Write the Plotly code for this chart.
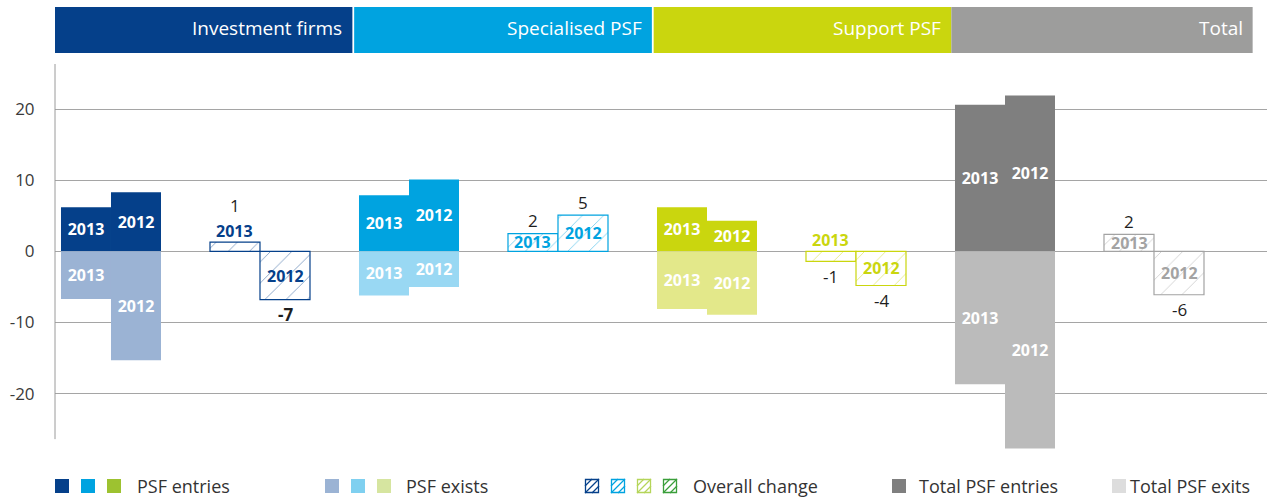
import plotly.graph_objects as go

# ---------------- data ----------------
categories = ["Investment firms", "Specialised PSF", "Support PSF", "Total"]
years = ["2013", "2012"]
entries_2013 = [6.2, 7.9, 6.2, 20.6]
entries_2012 = [8.3, 10.1, 4.3, 21.9]
exits_2013 = [-6.7, -6.2, -8.1, -18.7]
exits_2012 = [-15.3, -5.0, -8.9, -27.7]
change_2013 = [1.3, 2.5, -1.4, 2.4]
change_2012 = [-6.8, 5.1, -4.8, -6.1]
change_labels_2013 = ["1", "2", "-1", "2"]
change_labels_2012 = ["-7", "5", "-4", "-6"]
y_ticks = [-20, -10, 0, 10, 20]
legend_labels = ["PSF entries", "PSF exists", "Overall change", "Total PSF entries", "Total PSF exits"]

# ---------------- styles ----------------
header_cols = ["#05408A", "#00A3E0", "#CAD60E", "#9D9D9C"]
entry_cols = ["#05408A", "#00A3E0", "#CAD60E", "#7F7F7F"]
exit_cols = ["#9BB3D4", "#99D8F3", "#E3E88A", "#BBBBBB"]
change_cols = ["#05408A", "#00A3E0", "#CAD60E", "#A3A3A3"]
FONT = "Open Sans"

W, H = 1267, 499
L, R, T, B = 55, 0, 64, 44
PW, PH = W - L - R, H - T - B


def px(x):
    return (x - L) / PW


def py(y):
    return (H - B - y) / PH


bw = 0.3356
off = bw / 2
entry_g = [0, 2, 4, 6]
change_g = [1, 3, 5, 7]

fig = go.Figure()

# entries and exits
for vals, cols, sign in [(entries_2013, entry_cols, -1), (entries_2012, entry_cols, 1),
                         (exits_2013, exit_cols, -1), (exits_2012, exit_cols, 1)]:
    yr = years[0] if sign < 0 else years[1]
    fig.add_trace(go.Bar(
        x=[g + sign * off for g in entry_g], y=vals, width=bw,
        marker=dict(color=cols, line=dict(width=0)),
        text=[yr] * len(vals), textposition="inside", insidetextanchor="middle",
        textangle=0, constraintext="none",
        textfont=dict(family=FONT, size=16, color="white", weight="bold"),
        hoverinfo="skip", showlegend=False,
    ))

# overall change (hatched)
for vals, sign in [(change_2013, -1), (change_2012, 1)]:
    fig.add_trace(go.Bar(
        x=[g + sign * off for g in change_g], y=vals, width=bw,
        marker=dict(color="white", line=dict(color=change_cols, width=1.2),
                    pattern=dict(shape="/", fgcolor=change_cols, bgcolor="white",
                                 size=15, solidity=0.06)),
        hoverinfo="skip", showlegend=False,
    ))

annotations = []
# year labels and value labels on change bars
for vals, labels, sign, yr in [(change_2013, change_labels_2013, -1, years[0]),
                               (change_2012, change_labels_2012, 1, years[1])]:
    for i, v in enumerate(vals):
        xc = change_g[i] + sign * off
        small = abs(v) < 2
        if small:
            ylab, ysh = max(v, 0), 11
        else:
            ylab, ysh = v / 2, 0
        annotations.append(dict(x=xc, y=ylab, yshift=ysh, text="<b>%s</b>" % yr, showarrow=False,
                                yanchor="middle",
                                font=dict(family=FONT, size=16, color=change_cols[i]),
                                xref="x", yref="y"))
        if v >= 0:
            vs = 13 + (24 if small else 0)
        else:
            vs = -15
        txt = labels[i]
        if txt == "-7":
            txt = "<b>-7</b>"
        annotations.append(dict(x=xc, y=v, yshift=vs, text=txt, showarrow=False, yanchor="middle",
                                font=dict(family=FONT, size=17, color="#1e1e1e"),
                                xref="x", yref="y"))

shapes = []
# headers
edges = [-0.39 + 2.01 * k for k in range(5)]
for k, name in enumerate(categories):
    x0 = edges[k] + (0.012 if k in (1, 2) else 0)
    x1 = edges[k + 1] + (0.012 if k == 3 else 0)
    shapes.append(dict(type="rect", xref="x", yref="paper", x0=x0, x1=x1,
                       y0=py(53), y1=py(7), fillcolor=header_cols[k], line=dict(width=0), layer="above"))
    annotations.append(dict(x=x1, xref="x", xshift=-8, xanchor="right", y=py(28), yref="paper",
                            yanchor="middle", text=name, showarrow=False,
                            font=dict(family=FONT, size=19, color="white")))

# y axis line
shapes.append(dict(type="line", xref="paper", yref="y", x0=0, x1=0, y0=-26.4, y1=26.34,
                   line=dict(color="#9A9A9A", width=1)))

# legend
LY = 486
S = 14


def sq(x, col, hatch=False):
    if not hatch:
        shapes.append(dict(type="rect", xref="paper", yref="paper", x0=px(x), x1=px(x + S),
                           y0=py(LY + S / 2), y1=py(LY - S / 2), fillcolor=col, line=dict(width=0)))
        return
    shapes.append(dict(type="rect", xref="paper", yref="paper", x0=px(x + 0.5), x1=px(x + S - 0.5),
                       y0=py(LY + S / 2 - 0.5), y1=py(LY - S / 2 + 0.5), fillcolor="white",
                       line=dict(color=col, width=1.3)))
    path = ""
    base = LY + S / 2
    for c in (-S * 0.5, 0, S * 0.5):
        if c < 0:
            u0, v0, u1, v1 = 0, -c, S + c, S
        else:
            u0, v0, u1, v1 = c, 0, S, S - c
        path += "M %f %f L %f %f " % (px(x + u0), py(base - v0), px(x + u1), py(base - v1))
    shapes.append(dict(type="path", xref="paper", yref="paper", path=path,
                       line=dict(color=col, width=1.3)))


def leg_text(x, t):
    annotations.append(dict(x=px(x), y=py(LY), xref="paper", yref="paper", xanchor="left",
                            yanchor="middle", text=t, showarrow=False,
                            font=dict(family=FONT, size=18, color="#333333")))


for x, c in zip([55, 81, 107], ["#05408A", "#00A3E0", "#9DC230"]):
    sq(x, c)
leg_text(135, legend_labels[0])
for x, c in zip([325, 351, 377], ["#9BB3D4", "#7FD0F0", "#D6E5A0"]):
    sq(x, c)
leg_text(404, legend_labels[1])
for x, c in zip([585, 611, 637, 663], ["#05408A", "#00A3E0", "#B5D55A", "#3A9E3A"]):
    sq(x, c, hatch=True)
leg_text(691, legend_labels[2])
sq(892, "#7F7F7F")
leg_text(917, legend_labels[3])
sq(1112, "#DDDDDD")
leg_text(1128, legend_labels[4])

fig.update_layout(
    width=W, height=H, margin=dict(l=L, r=R, t=T, b=B, pad=0, autoexpand=False),
    paper_bgcolor="white", plot_bgcolor="white",
    barmode="overlay", showlegend=False,
    xaxis=dict(range=[-0.3758, 7.7584], showgrid=False, zeroline=False, showticklabels=False,
               showline=False, fixedrange=True),
    yaxis=dict(range=[-28.63, 26.34], tickvals=y_ticks, ticktext=[str(v) for v in y_ticks],
               showgrid=True, gridcolor="#A5A5A5", gridwidth=1,
               zeroline=True, zerolinecolor="#A5A5A5", zerolinewidth=1,
               showline=False, ticks="outside", ticklen=16, tickcolor="rgba(0,0,0,0)",
               tickfont=dict(family=FONT, size=17, color="#3a3a3a")),
    shapes=shapes, annotations=annotations,
)

fig.write_html("out.html", config={"displayModeBar": False},
               post_script="document.body.style.margin='0px';document.body.style.overflow='hidden';")
